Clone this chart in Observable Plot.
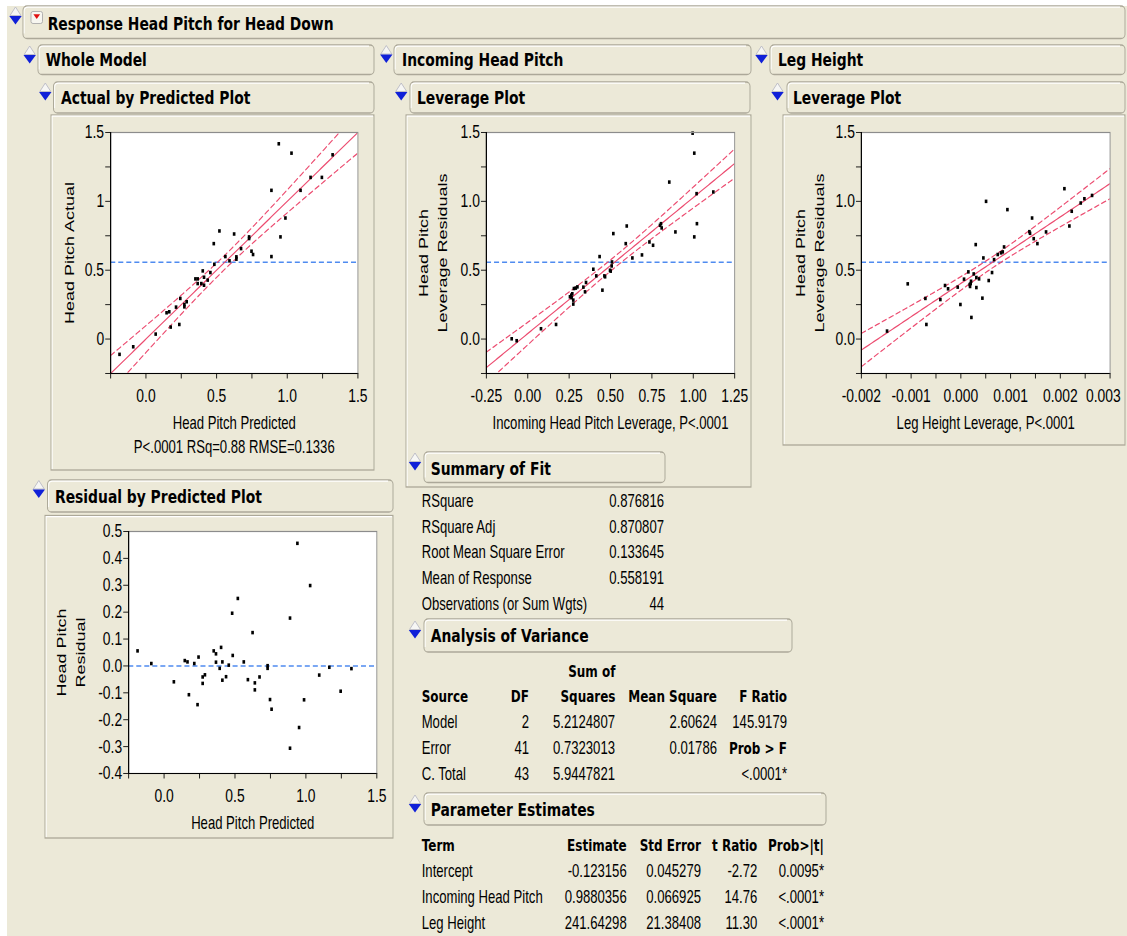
<!DOCTYPE html>
<html>
<head>
<meta charset="utf-8">
<script src="https://cdn.jsdelivr.net/npm/d3@7"></script>
<script src="https://cdn.jsdelivr.net/npm/@observablehq/plot@0.6"></script>
<style>
  html, body { margin: 0; padding: 0; background: #fff; overflow: hidden; }
  /* The report is laid out wide and squeezed horizontally, like a narrowed screen capture. */
  #page { position: absolute; left: 0; top: 0; width: 1503px; height: 936px;
          transform: scaleX(0.75); transform-origin: 0 0; }
  #chrome { position: absolute; left: 0; top: 0; }
  .plot { position: absolute; }
  .plot svg { max-width: none; display: block; overflow: visible; }
</style>
</head>
<body>
<div id="page"><svg id="chrome"></svg></div>
<script>
// ---------------- data ----------------
// Whole model: predicted value, actual value and residual for each of the 44 rows
const predicted = [-0.187,-0.09,0.069,0.146,0.165,0.175,0.213,0.243,0.236,0.272,0.272,0.288,0.35,0.366,0.366,0.402,0.392,0.411,0.411,0.437,0.456,0.48,0.484,0.52,0.562,0.591,0.624,0.64,0.64,0.673,0.73,0.73,0.747,0.758,0.888,0.888,0.94,0.952,0.987,1.03,1.094,1.165,1.245,1.321];
const actual = [-0.111,-0.056,0.036,0.191,0.198,0.087,0.232,0.295,0.106,0.251,0.234,0.271,0.437,0.437,0.403,0.495,0.403,0.449,0.391,0.428,0.483,0.693,0.543,0.785,0.599,0.568,0.763,0.597,0.580,0.657,0.742,0.730,0.638,0.614,1.080,0.599,1.418,0.742,0.879,1.350,1.080,1.174,1.174,1.338];
const residual = [0.056,0.009,-0.059,0.02,0.015,-0.107,0.009,0.033,-0.144,-0.041,-0.065,-0.033,0.056,0.045,0.014,0.069,-0.009,0.015,-0.053,-0.04,0.003,0.196,0.039,0.251,0.015,-0.051,0.124,-0.063,-0.089,-0.041,0.001,-0.009,-0.125,-0.161,0.178,-0.306,0.456,-0.229,-0.126,0.299,-0.034,-0.005,-0.094,-0.01];

// Leverage plot for Incoming Head Pitch
const pitchLeverage = [-0.097,-0.067,0.080,0.171,0.255,0.263,0.265,0.269,0.279,0.290,0.275,0.275,0.300,0.336,0.346,0.352,0.396,0.414,0.434,0.451,0.463,0.467,0.497,0.501,0.507,0.509,0.517,0.592,0.598,0.632,0.690,0.735,0.757,0.799,0.805,0.809,0.855,0.892,0.996,1.006,1.006,1.020,1.022,1.121];
const pitchLevResidual = [0.002,-0.012,0.075,0.106,0.307,0.319,0.300,0.329,0.367,0.370,0.283,0.254,0.379,0.377,0.343,0.411,0.507,0.459,0.599,0.355,0.459,0.452,0.500,0.493,0.531,0.560,0.766,0.693,0.821,0.589,0.611,0.705,0.681,0.826,0.838,0.807,1.140,0.778,1.495,1.350,0.742,1.056,0.838,1.068];

// Leverage plot for Leg Height
const legLeverage = [-0.001484,-0.001068,-0.000713,-0.000693,-0.000412,-0.000318,-0.000257,-0.000063,-0.000009,0.000064,0.000151,0.000178,0.000198,0.000205,0.000185,0.000212,0.000259,0.000299,0.000312,0.000312,0.000366,0.000433,0.000453,0.000507,0.00056,0.000627,0.000668,0.000741,0.000808,0.000842,0.000869,0.000936,0.001378,0.001391,0.001432,0.001465,0.001539,0.001713,0.002082,0.002182,0.002229,0.00241,0.002484,0.002638];
const legLevResidual = [0.058,0.401,0.295,0.106,0.287,0.389,0.365,0.377,0.251,0.435,0.488,0.396,0.403,0.420,0.382,0.157,0.473,0.686,0.447,0.374,0.437,0.297,0.589,1.0,0.425,0.483,0.577,0.614,0.626,0.633,0.669,0.940,0.780,0.768,0.879,0.729,0.693,0.778,1.092,0.821,0.928,0.988,1.019,1.043];

// Report tables
const summaryLabels = ["RSquare","RSquare Adj","Root Mean Square Error","Mean of Response","Observations (or Sum Wgts)"];
const summaryValues = ["0.876816","0.870807","0.133645","0.558191","44"];

const anovaSources = ["Model","Error","C. Total"];
const anovaDF = ["2","41","43"];
const anovaSS = ["5.2124807","0.7323013","5.9447821"];
const anovaMS = ["2.60624","0.01786",""];
const anovaLast = ["145.9179","Prob > F","<.0001*"];

const paramTerms = ["Intercept","Incoming Head Pitch","Leg Height"];
const paramEstimate = ["-0.123156","0.9880356","241.64298"];
const paramStdError = ["0.045279","0.066925","21.38408"];
const paramT = ["-2.72","14.76","11.30"];
const paramProb = ["0.0095*","<.0001*","<.0001*"];

// Axis ticks and their labels
const ticks175 = [-0.25,0,0.25,0.5,0.75,1,1.25,1.5];
const predLabels = ["","0.0","","0.5","","1.0","","1.5"];
const actualLabels = ["","0","","0.5","","1","","1.5"];
const levYLabels = ["","0.0","","0.5","","1.0","","1.5"];
const pitchXTicks = [-0.25,0,0.25,0.5,0.75,1,1.25];
const pitchXLabels = ["-0.25","0.00","0.25","0.50","0.75","1.00","1.25"];
const legXTicks = [-0.002,-0.0015,-0.001,-0.0005,0,0.0005,0.001,0.0015,0.002,0.0025,0.003];
const legXLabels = ["-0.002","","-0.001","","0.000","","0.001","","0.002","","0.003"];
const residTicks = [-0.4,-0.3,-0.2,-0.1,0,0.1,0.2,0.3,0.4,0.5];
const residLabels = ["-0.4","-0.3","-0.2","-0.1","0.0","0.1","0.2","0.3","0.4","0.5"];

// Model statistics used for fitted lines and confidence curves
const nObs = +summaryValues[4];
const meanResponse = +summaryValues[3];
const mse = +anovaMS[1];
const ssModel = +anovaSS[0];
const tCrit = 2.0195;   // t(0.975, 41)
const fCrit = 3.2257;   // F(0.95; 2, 41)

// ---------------- layout helpers ----------------
const S = 0.75;
const U = x => x / S;
const W = 1503, H = 936;
const BG = "#ECE9D8", EDGE = "#ACA899", RED = "#EC4C70", BLUE = "#4F8BF0";
const SANS = "'Liberation Sans', Arial, sans-serif";
const BOLD = "'DejaVu Sans', Tahoma, sans-serif";

const chrome = d3.select("#chrome").attr("width", W).attr("height", H);
chrome.append("rect").attr("x", U(7)).attr("y", 6).attr("width", W).attr("height", H).attr("fill", BG);

function panel(x0, y0, x1, y1, r = 0) {
  chrome.append("rect")
    .attr("x", U(x0)).attr("y", y0).attr("width", U(x1 - x0)).attr("height", y1 - y0)
    .attr("rx", U(r)).attr("ry", r)
    .attr("fill", BG).attr("stroke", EDGE).attr("stroke-width", 1.3);
  chrome.append("path")
    .attr("d", `M${U(x0 + 1.2)},${y1 - r - 1}V${y0 + r + 1.2}${r ? `Q${U(x0 + 1.2)},${y0 + 1.2} ${U(x0 + r + 1)},${y0 + 1.2}` : ""}H${U(x1 - r - 1)}`)
    .attr("fill", "none").attr("stroke", "#fff").attr("stroke-width", 1.2);
}

function twisty(cx, yt) {
  chrome.append("path")
    .attr("d", `M${U(cx)},${yt}L${U(cx + 5.5)},${yt + 8.5}L${U(cx - 5.5)},${yt + 8.5}Z`)
    .attr("fill", "#f6f6f4").attr("stroke", "#b8b8c4").attr("stroke-width", 1);
  chrome.append("path")
    .attr("d", `M${U(cx - 6.2)},${yt + 9}L${U(cx + 6.2)},${yt + 9}L${U(cx)},${yt + 17.5}Z`)
    .attr("fill", "#1020D8");
}

function label(x, y, s, {anchor = "start", bold = false, size = 17.5} = {}) {
  chrome.append("text")
    .attr("x", U(x)).attr("y", y)
    .attr("text-anchor", anchor)
    .attr("font-family", bold ? BOLD : SANS)
    .attr("font-weight", bold ? "bold" : "normal")
    .attr("font-size", size)
    .attr("fill", "#000")
    .text(s);
}

function heading(x0, y0, x1, y1, text, tx, ty, tw) {
  panel(x0, y0, x1, y1, 4);
  twisty(tw[0], tw[1]);
  label(tx, ty, text, {bold: true, size: 18.5});
}

// ---------------- outline headers ----------------
heading(23, 6, 1125, 38.5, "Response Head Pitch for Head Down", 47.7, 30.5, [15.5, 7]);
// red hotspot icon
chrome.append("rect").attr("x", U(31)).attr("y", 11.5).attr("width", U(11.5)).attr("height", 12)
  .attr("rx", U(2)).attr("ry", 2).attr("fill", "#f7f6f0").attr("stroke", "#a8a8a8").attr("stroke-width", 1);
chrome.append("path").attr("d", `M${U(33.4)},${14.2}L${U(40.1)},${14.2}L${U(36.75)},${19}Z`).attr("fill", "#E01010");

heading(38, 45, 374, 74.5, "Whole Model", 45.7, 66, [29.7, 46]);
heading(394, 45, 751, 74.5, "Incoming Head Pitch", 402, 66, [386.3, 45.5]);
heading(770, 45, 1125, 74.5, "Leg Height", 778, 66, [761.5, 46]);

heading(53.5, 82, 374, 113, "Actual by Predicted Plot", 61, 104, [45.3, 83]);
heading(410, 82, 750, 113, "Leverage Plot", 417, 104, [401.2, 83]);
heading(787, 82, 1125, 113, "Leverage Plot", 793, 104, [777.5, 83]);

// plot panels
panel(51, 115, 374, 470);
panel(406, 115, 751, 487);
panel(783, 115, 1125, 445);
panel(45, 515.5, 393, 838);

heading(47.5, 480, 393, 512, "Residual by Predicted Plot", 55, 503, [38.8, 480.5]);

// ---------------- summary tables ----------------
heading(424, 452, 665, 482.5, "Summary of Fit", 430.7, 475, [415, 453]);
summaryLabels.forEach((s, i) => {
  const y = 506.7 + i * 25.9;
  label(421.7, y, s);
  label(664, y, summaryValues[i], {anchor: "end"});
});

heading(424, 619, 792, 652, "Analysis of Variance", 430.7, 642.5, [415, 621]);
const th = {bold: true, size: 16};
label(615.5, 677, "Sum of", {...th, anchor: "end"});
label(421.7, 702.5, "Source", th);
label(529, 702.5, "DF", {...th, anchor: "end"});
label(615.5, 702.5, "Squares", {...th, anchor: "end"});
label(717, 702.5, "Mean Square", {...th, anchor: "end"});
label(787, 702.5, "F Ratio", {...th, anchor: "end"});
anovaSources.forEach((s, i) => {
  const y = 728.5 + i * 26;
  label(421.7, y, s);
  label(529, y, anovaDF[i], {anchor: "end"});
  label(615, y, anovaSS[i], {anchor: "end"});
  if (anovaMS[i]) label(717, y, anovaMS[i], {anchor: "end"});
  label(787, y, anovaLast[i], i === 1 ? {...th, anchor: "end"} : {anchor: "end"});
});

heading(424, 793, 826, 825, "Parameter Estimates", 430.7, 816.5, [415, 795]);
label(421.7, 851, "Term", th);
label(626.7, 851, "Estimate", {...th, anchor: "end"});
label(701, 851, "Std Error", {...th, anchor: "end"});
label(757.3, 851, "t Ratio", {...th, anchor: "end"});
label(824, 851, "Prob>|t|", {...th, anchor: "end"});
paramTerms.forEach((s, i) => {
  const y = 877 + i * 26;
  label(421.7, y, s);
  label(626.7, y, paramEstimate[i], {anchor: "end"});
  label(701, y, paramStdError[i], {anchor: "end"});
  label(757.3, y, paramT[i], {anchor: "end"});
  label(824, y, paramProb[i], {anchor: "end"});
});

// ---------------- plots ----------------
function fitPlot(cfg) {
  const {frame, xDomain, yDomain, xTicks, xLabels, yTicks, yLabels, points, refY,
         fit, halfWidth, xTitle, note, yTitle, yTitleDx, lastLabelDx = 0} = cfg;
  const m = {left: 112, right: 34, top: 12, bottom: 96};
  const width = U(frame.x1 - frame.x0) + m.left + m.right;
  const height = (frame.y1 - frame.y0) + m.top + m.bottom;
  const xFmt = new Map(xTicks.map((t, i) => [t, xLabels[i]]));
  const yFmt = new Map(yTicks.map((t, i) => [t, yLabels[i]]));

  const marks = [
    Plot.frame({fill: "white"}),
    Plot.ruleY([refY], {stroke: BLUE, strokeWidth: 1.6, strokeDasharray: "6.7,4"})
  ];
  if (fit) {
    const xs = d3.range(0, 161).map(i => xDomain[0] + (xDomain[1] - xDomain[0]) * i / 160);
    const line = xs.map(x => ({x, y: fit(x)}));
    const curves = xs.flatMap(x => [
      {x, y: fit(x) + halfWidth(x), side: "upper"},
      {x, y: fit(x) - halfWidth(x), side: "lower"}
    ]);
    marks.push(Plot.line(curves, {x: "x", y: "y", z: "side", stroke: RED, strokeWidth: 1.3, strokeDasharray: "6,4", clip: true}));
    marks.push(Plot.line(line, {x: "x", y: "y", stroke: RED, strokeWidth: 1.3, clip: true}));
  }
  marks.push(
    Plot.dot(points, {x: "x", y: "y", symbol: "square", r: 2, fill: "black", stroke: null}),
    Plot.frame({stroke: "#8c8c8c", strokeWidth: 1.2}),
    Plot.ruleX([xDomain[0]], {stroke: "black", strokeWidth: 1.6}),
    Plot.ruleY([yDomain[0]], {stroke: "black", strokeWidth: 1.2}),
    Plot.axisX({ticks: xTicks, tickFormat: d => xFmt.get(d) ?? "", tickSize: 5.5, tickPadding: 10, fontSize: 18.5, label: null}),
    Plot.axisY({ticks: yTicks, tickFormat: d => yFmt.get(d) ?? "", tickSize: 6.7, tickPadding: 2, fontSize: 18.5, label: null}),
    Plot.text([xTitle], {frameAnchor: "bottom", lineAnchor: "bottom", textAnchor: "middle", dy: 55.3, fontSize: 17.5}),
    Plot.text([yTitle], {frameAnchor: "left", lineAnchor: "bottom", textAnchor: "middle", rotate: -90, dx: yTitleDx, fontSize: 18, lineHeight: 1.36})
  );
  if (note) marks.push(Plot.text([note], {frameAnchor: "bottom", lineAnchor: "bottom", textAnchor: "middle", dy: 80, fontSize: 17.5}));

  const svg = Plot.plot({
    width, height,
    marginLeft: m.left, marginRight: m.right, marginTop: m.top, marginBottom: m.bottom,
    x: {domain: xDomain},
    y: {domain: yDomain},
    style: {fontFamily: SANS, fontSize: "17.5px", color: "black", background: "transparent", overflow: "visible"},
    marks
  });
  if (lastLabelDx) {
    // keep the rightmost x tick label inside the report edge
    const texts = [...svg.querySelectorAll("g[aria-label='x-axis tick label'] text")].filter(t => t.textContent);
    const last = texts[texts.length - 1];
    if (last) {
      const t = last.getAttribute("transform") || "";
      last.setAttribute("transform", `translate(${lastLabelDx},0) ${t}`);
    }
  }
  const holder = document.createElement("div");
  holder.className = "plot";
  holder.style.left = (U(frame.x0) - m.left) + "px";
  holder.style.top = (frame.y0 - m.top) + "px";
  holder.style.width = width + "px";
  holder.appendChild(svg);
  document.getElementById("page").appendChild(holder);
}

// Actual by Predicted
fitPlot({
  frame: {x0: 110, x1: 357.3, y0: 131.7, y1: 372.7},
  xDomain: [-0.25, 1.5], yDomain: [-0.25, 1.5],
  xTicks: ticks175, xLabels: predLabels, yTicks: ticks175, yLabels: actualLabels,
  points: predicted.map((x, i) => ({x, y: actual[i]})),
  refY: meanResponse,
  fit: x => x,
  halfWidth: x => Math.sqrt(2 * fCrit) * Math.sqrt(mse / nObs + mse / ssModel * (x - meanResponse) ** 2),
  xTitle: "Head Pitch Predicted",
  note: "P<.0001 RSq=0.88 RMSE=0.1336",
  yTitle: "Head Pitch Actual", yTitleDx: -48.7
});

// Leverage plot, Incoming Head Pitch
const pitchMean = d3.mean(pitchLeverage);
const pitchSlope = +paramEstimate[1], pitchSE = +paramStdError[1];
fitPlot({
  frame: {x0: 485.7, x1: 734, y0: 131.7, y1: 372.7},
  xDomain: [-0.25, 1.25], yDomain: [-0.25, 1.5],
  xTicks: pitchXTicks, xLabels: pitchXLabels, yTicks: ticks175, yLabels: levYLabels,
  points: pitchLeverage.map((x, i) => ({x, y: pitchLevResidual[i]})),
  refY: meanResponse,
  fit: x => meanResponse + pitchSlope * (x - pitchMean),
  halfWidth: x => tCrit * Math.sqrt(mse / nObs + pitchSE ** 2 * (x - pitchMean) ** 2),
  xTitle: "Incoming Head Pitch Leverage, P<.0001",
  yTitle: "Head Pitch\nLeverage Residuals", yTitleDx: -52.9
});

// Leverage plot, Leg Height
const legMean = d3.mean(legLeverage);
const legSlope = +paramEstimate[2], legSE = +paramStdError[2];
fitPlot({
  frame: {x0: 861, x1: 1109.7, y0: 131.7, y1: 372.7},
  xDomain: [-0.002, 0.003], yDomain: [-0.25, 1.5],
  xTicks: legXTicks, xLabels: legXLabels, yTicks: ticks175, yLabels: levYLabels,
  points: legLeverage.map((x, i) => ({x, y: legLevResidual[i]})),
  refY: meanResponse,
  fit: x => meanResponse + legSlope * (x - legMean),
  halfWidth: x => tCrit * Math.sqrt(mse / nObs + legSE ** 2 * (x - legMean) ** 2),
  xTitle: "Leg Height Leverage, P<.0001",
  yTitle: "Head Pitch\nLeverage Residuals", yTitleDx: -50.1,
  lastLabelDx: -9
});

// Residual by Predicted
fitPlot({
  frame: {x0: 128.5, x1: 376.7, y0: 530.7, y1: 772.7},
  xDomain: [-0.25, 1.5], yDomain: [-0.4, 0.5],
  xTicks: ticks175, xLabels: predLabels, yTicks: residTicks, yLabels: residLabels,
  points: predicted.map((x, i) => ({x, y: residual[i]})),
  refY: 0,
  xTitle: "Head Pitch Predicted",
  yTitle: "Head Pitch\nResidual", yTitleDx: -58.8
});
</script>
</body>
</html>
